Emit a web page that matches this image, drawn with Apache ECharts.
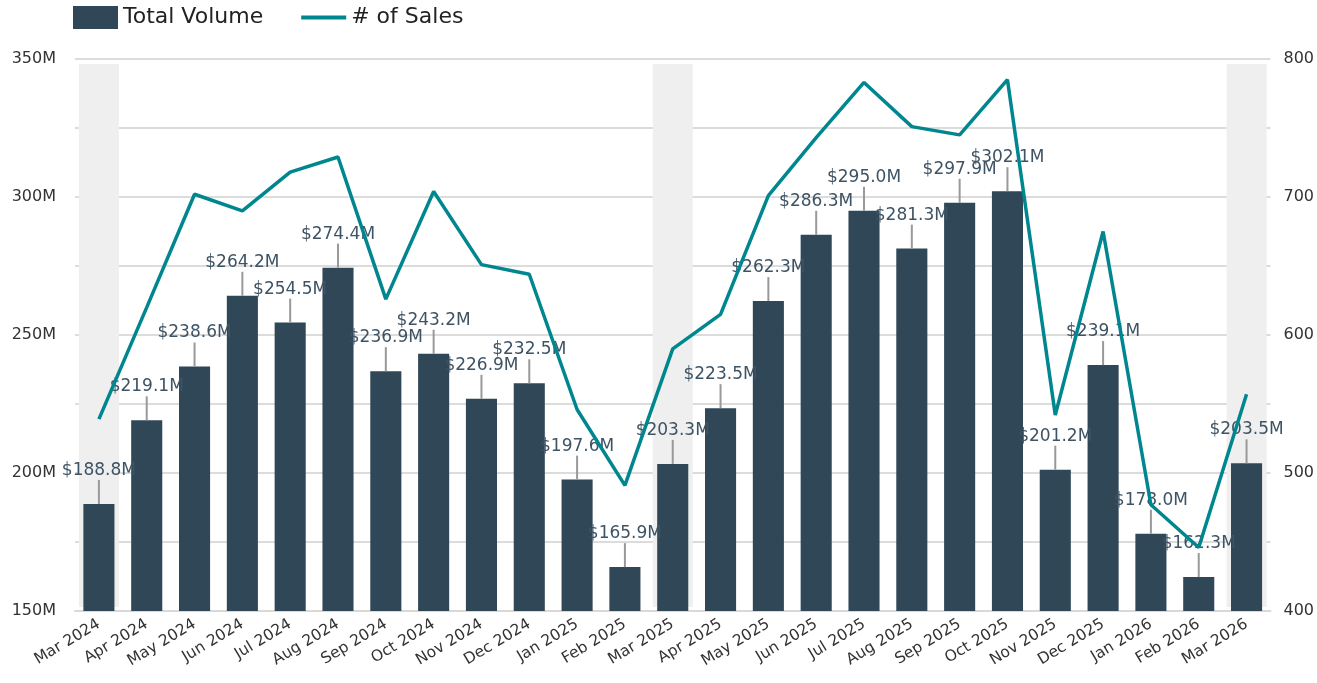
<!DOCTYPE html>
<html>
<head>
<meta charset="utf-8">
<script src="https://cdn.jsdelivr.net/npm/echarts@6/dist/echarts.min.js"></script>
<style>
html,body{margin:0;padding:0;background:#fff;overflow:hidden;}
#chart{width:1317px;height:683px;}
</style>
</head>
<body>
<div id="chart"></div>
<script>
const categories = ['Mar 2024','Apr 2024','May 2024','Jun 2024','Jul 2024','Aug 2024','Sep 2024','Oct 2024','Nov 2024','Dec 2024','Jan 2025','Feb 2025','Mar 2025','Apr 2025','May 2025','Jun 2025','Jul 2025','Aug 2025','Sep 2025','Oct 2025','Nov 2025','Dec 2025','Jan 2026','Feb 2026','Mar 2026'];
const totalVolume = [188.8,219.1,238.6,264.2,254.5,274.4,236.9,243.2,226.9,232.5,197.6,165.9,203.3,223.5,262.3,286.3,295.0,281.3,297.9,302.1,201.2,239.1,178.0,162.3,203.5]; // $M
const numSales = [539,620,702,690,718,729,626,704,651,644,546,491,590,615,701,743,783,751,745,785,542,675,477,446,557];
const highlightMonths = ['Mar 2024','Mar 2025','Mar 2026'];
const leftTicks = {min:150, max:350, step:25, labelStep:50};
const rightTicks = {min:400, max:800, step:50, labelStep:100};

const FONT = '"DejaVu Sans", sans-serif';
const chart = echarts.init(document.getElementById('chart'));

const volumeData = totalVolume.map(v => v * 1e6);
const highlightData = categories.map((c, i) => highlightMonths.includes(c) ? i : null).filter(i => i !== null);

const option = {
  animation: false,
  grid: {left: 75, right: 42, top: 59, bottom: 72, containLabel: false},
  legend: {
    left: 68, top: 1, itemGap: 38, itemWidth: 45, itemHeight: 23,
    textStyle: {fontFamily: FONT, fontSize: 22, color: '#222'},
    data: [
      {name: 'Total Volume', icon: 'rect'},
      {name: '# of Sales', icon: 'path://M0,0 L45,0 L45,4 L0,4 Z'}
    ]
  },
  xAxis: {
    type: 'category', data: categories,
    axisLine: {show: true, lineStyle: {color: '#d9d9d9', width: 2}},
    axisTick: {show: false},
    axisLabel: {rotate: 31, interval: 0, fontFamily: FONT, fontSize: 15.5, color: '#333', margin: 12}
  },
  yAxis: [
    {
      type: 'value', min: leftTicks.min * 1e6, max: leftTicks.max * 1e6, interval: leftTicks.step * 1e6,
      axisLine: {show: false}, axisTick: {show: false},
      splitLine: {lineStyle: {color: '#dcdcdc', width: 2}},
      axisLabel: {
        fontFamily: FONT, fontSize: 16, color: '#333', margin: 19,
        formatter: v => (Math.round(v / 1e6) % leftTicks.labelStep === 0) ? Math.round(v / 1e6) + 'M' : ''
      }
    },
    {
      type: 'value', min: rightTicks.min, max: rightTicks.max, interval: rightTicks.step,
      axisLine: {show: false}, axisTick: {show: false}, splitLine: {show: false},
      axisLabel: {
        fontFamily: FONT, fontSize: 16, color: '#333', margin: 13,
        formatter: v => (v % rightTicks.labelStep === 0) ? String(v) : ''
      }
    }
  ],
  series: [
    {
      name: 'highlight', type: 'custom', yAxisIndex: 0, silent: true, z: 0,
      data: highlightData.map(i => [i, leftTicks.max * 1e6]),
      renderItem: (params, api) => {
        const top = api.coord([api.value(0), leftTicks.max * 1e6]);
        const bot = api.coord([api.value(0), leftTicks.min * 1e6]);
        const w = 40;
        return {type: 'rect', shape: {x: top[0] - w / 2, y: top[1] + 5, width: w, height: bot[1] - top[1] - 9},
          style: {fill: '#efefef'}};
      }
    },
    {
      name: 'Total Volume', type: 'bar', yAxisIndex: 0, data: volumeData, barWidth: '65%', z: 2,
      itemStyle: {color: '#2f4757'}
    },
    {
      name: 'labels', type: 'custom', yAxisIndex: 0, z: 3, silent: true,
      data: volumeData.map((v, i) => [i, v]),
      renderItem: (params, api) => {
        const v = api.value(1);
        const p = api.coord([api.value(0), v]);
        return {type: 'group', children: [
          {type: 'line', shape: {x1: p[0], y1: p[1], x2: p[0], y2: p[1] - 24}, style: {stroke: '#999', lineWidth: 2}},
          {type: 'text', x: p[0], y: p[1] - 25, style: {text: '$' + (v / 1e6).toFixed(1) + 'M', align: 'center', verticalAlign: 'bottom', fill: '#3e5364', font: '17px ' + FONT}}
        ]};
      }
    },
    {
      name: '# of Sales', type: 'line', yAxisIndex: 1, data: numSales, z: 4,
      symbol: 'none', lineStyle: {color: '#00868f', width: 3.5}, itemStyle: {color: '#00868f'}
    }
  ]
};
chart.setOption(option);
</script>
</body>
</html>
